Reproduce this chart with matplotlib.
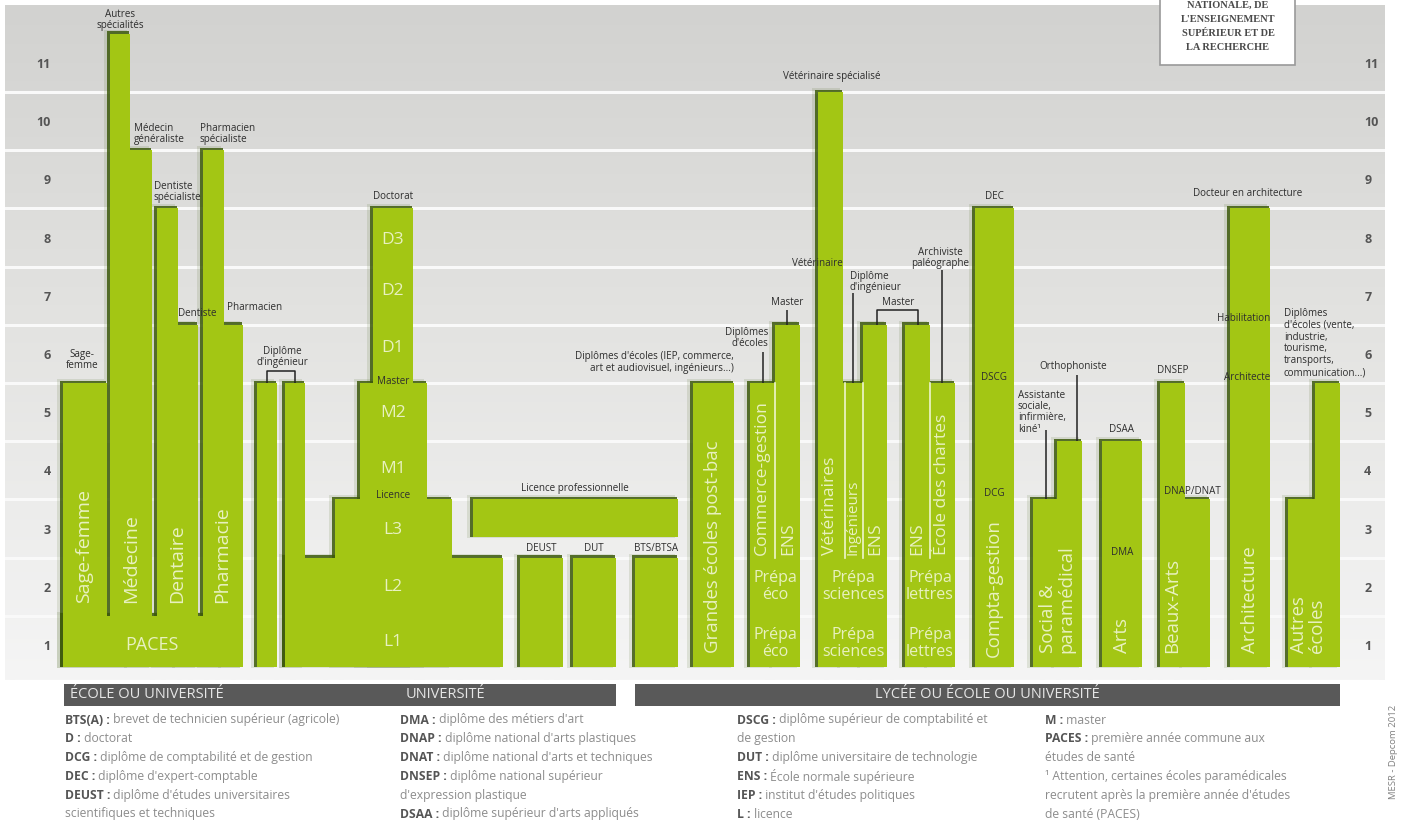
import numpy as np
import matplotlib.pyplot as plt
from matplotlib.patches import Rectangle
from matplotlib.colors import LinearSegmentedColormap

plt.rcParams['font.family'] = ['Open Sans', 'DejaVu Sans']

# ---- data: years of study covered by each block of the diagram ----
block_names = [
    "PACES", "Sage-femme", "Autres spécialités", "Médecin généraliste",
    "Dentiste spécialiste", "Dentiste", "Pharmacien spécialiste", "Pharmacien",
    "Diplôme d'ingénieur 1", "Diplôme d'ingénieur 2", "L1-L2", "L3", "Master", "Doctorat",
    "Licence professionnelle", "DEUST", "DUT", "BTS/BTSA",
    "Grandes écoles post-bac", "Commerce-gestion", "ENS éco",
    "Vétérinaires", "Ingénieurs", "ENS sciences", "ENS lettres", "École des chartes",
    "Compta-gestion", "Social", "Paramédical", "Arts", "Beaux-Arts DNSEP",
    "Beaux-Arts DNAP", "Architecture", "Autres écoles 3", "Autres écoles 5",
]
block_bottom = [0, 0, 0, 0, 0, 0, 0, 0, 0, 0, 0, 0, 0, 0,
                2.35, 0, 0, 0, 0, 0, 0, 0, 0, 0, 0, 0,
                0, 0, 0, 0, 0, 0, 0, 0, 0]
block_top = [1, 5, 11, 9, 8, 6, 9, 6, 5, 5, 2, 3, 5, 8,
             3, 2, 2, 2, 5, 5, 6, 10, 5, 6, 6, 5,
             8, 3, 4, 4, 5, 3, 8, 3, 5]

# layout: horizontal extent of each block (pixel columns)
block_x0 = [63, 63, 110, 130, 157, 178, 203, 224, 257, 285, 285, 335, 360, 373,
            473, 520, 573, 635, 693, 750, 775, 818, 843, 863, 905, 930,
            975, 1033, 1057, 1102, 1160, 1185, 1230, 1288, 1315]
block_x1 = [243, 107, 130, 152, 178, 198, 224, 243, 277, 305, 503, 452, 427, 413,
            678, 563, 616, 678, 734, 775, 800, 843, 863, 887, 930, 955,
            1014, 1057, 1082, 1142, 1185, 1210, 1270, 1315, 1340]

level_labels = [str(k) for k in range(1, 12)]

GREEN = '#a3c614'
SHADOW = '#3d5a0c'
LIGHT = '#e8f1c0'
DARK = '#2e2e2e'
BASE = 0.12

W, H = 1405, 827
fig = plt.figure(figsize=(W / 100, H / 100), dpi=100)
fig.patch.set_facecolor('white')

ax = fig.add_axes([5 / W, 1 - 680 / H, 1380 / W, 675 / H])
ymin, ymax = -0.103, 11.495
ax.set_xlim(5, 1385)
ax.set_ylim(ymin, ymax)

bg = LinearSegmentedColormap.from_list('bg', ['#d2d2d0', '#e4e4e2', '#f5f5f5'])
ax.imshow(np.linspace(0, 1, 256).reshape(-1, 1), cmap=bg, aspect='auto',
          extent=[5, 1385, ymin, ymax], origin='upper', zorder=0)
for k in range(1, 11):
    ax.axhline(k, color='#f9f9f9', lw=2.2, zorder=1)

ticks = [k - 0.5 for k in range(1, 12)]
ax.set_yticks(ticks)
ax.set_yticklabels(level_labels, fontweight='bold', color='#555555')
ax.tick_params(axis='y', length=0, labelsize=9, pad=-33)
ax.set_xticks([])
for sp in ax.spines.values():
    sp.set_visible(False)

ax_r = ax.twinx()
ax_r.set_ylim(ymin, ymax)
ax_r.set_yticks(ticks)
ax_r.set_yticklabels(level_labels, fontweight='bold', color='#555555')
ax_r.tick_params(axis='y', length=0, labelsize=9, pad=-15)
for sp in ax_r.spines.values():
    sp.set_visible(False)

# shadows first, then green blocks
for x0, x1, b, t in zip(block_x0, block_x1, block_bottom, block_top):
    b0 = max(b, BASE)
    ax.add_patch(Rectangle((x0 - 6, b0 - 0.02), x1 - x0 + 3, t - b0 + 0.09,
                           color=SHADOW, alpha=0.12, lw=0, zorder=2))
    ax.add_patch(Rectangle((x0 - 3.5, b0), x1 - x0 + 2, t - b0 + 0.04,
                           color=SHADOW, alpha=0.85, lw=0, zorder=2))
for x0, x1, b, t in zip(block_x0, block_x1, block_bottom, block_top):
    b0 = max(b, BASE)
    ax.add_patch(Rectangle((x0, b0), x1 - x0, t - b0, color=GREEN, lw=0, zorder=3))

# white dividers inside prépa blocks
for xd in [775, 845, 863, 930]:
    ax.plot([xd, xd], [2.0, 5.0], color='#eef5cc', lw=1.2, zorder=4)

# vertical labels inside the blocks (x, bottom level, text, size)
vlabels = [
    (84, 1.22, "Sage-femme", 14), (131, 1.22, "Médecine", 14),
    (177, 1.22, "Dentaire", 14), (222, 1.22, "Pharmacie", 14),
    (713, 0.36, "Grandes écoles post-bac", 13.4),
    (762, 2.05, "Commerce-gestion", 12.6), (788, 2.05, "ENS", 12.6),
    (830, 2.05, "Vétérinaires", 12.6), (853, 2.05, "Ingénieurs", 11),
    (875, 2.05, "ENS", 12.6), (917, 2.05, "ENS", 12.6),
    (942, 2.05, "École des chartes", 12.6),
    (994, 0.3, "Compta-gestion", 13.4), (1057, 0.36, "Social &\nparamédical", 13.4),
    (1122, 0.36, "Arts", 13.4), (1172, 0.36, "Beaux-Arts", 13.4),
    (1250, 0.36, "Architecture", 13.4), (1308, 0.36, "Autres\nécoles", 13.4),
]
for x, y, s, fs in vlabels:
    ax.text(x, y, s, rotation=90, rotation_mode='anchor', ha='left', va='center',
            multialignment='left', color=LIGHT, fontsize=fs, zorder=6, linespacing=1.0)

# horizontal light labels inside blocks
hlabels = [
    (152, 0.5, "PACES", 13), (393, 0.55, "L1", 12.5), (393, 1.5, "L2", 12.5),
    (393, 2.47, "L3", 12.5), (393, 3.53, "M1", 12.5), (393, 4.48, "M2", 12.5),
    (393, 5.6, "D1", 12.5), (393, 6.58, "D2", 12.5), (393, 7.46, "D3", 12.5),
    (775, 1.5, "Prépa\néco", 11.5), (775, 0.52, "Prépa\néco", 11.5),
    (853, 1.5, "Prépa\nsciences", 11.5), (853, 0.52, "Prépa\nsciences", 11.5),
    (930, 1.5, "Prépa\nlettres", 11.5), (930, 0.52, "Prépa\nlettres", 11.5),
]
for x, y, s, fs in hlabels:
    ax.text(x, y, s, ha='center', va='center', color=LIGHT, fontsize=fs,
            zorder=6, linespacing=1.05)

# small dark labels (x, level, text, ha)
dlabels = [
    (120, 11.24, "Autres\nspécialités", 'center'),
    (134, 9.28, "Médecin\ngénéraliste", 'left'),
    (154, 8.28, "Dentiste\nspécialiste", 'left'),
    (200, 9.28, "Pharmacien\nspécialiste", 'left'),
    (178, 6.2, "Dentiste", 'left'), (227, 6.3, "Pharmacien", 'left'),
    (82, 5.4, "Sage-\nfemme", 'center'),
    (282, 5.45, "Diplôme\nd'ingénieur", 'center'),
    (393, 8.2, "Doctorat", 'center'), (393, 5.03, "Master", 'center'),
    (393, 3.06, "Licence", 'center'),
    (575, 3.18, "Licence professionnelle", 'center'),
    (541, 2.16, "DEUST", 'center'), (594, 2.16, "DUT", 'center'),
    (656, 2.16, "BTS/BTSA", 'center'),
    (734, 5.35, "Diplômes d'écoles (IEP, commerce,\nart et audiovisuel, ingénieurs...)", 'right'),
    (768, 5.77, "Diplômes\nd'écoles", 'right'),
    (787, 6.39, "Master", 'center'),
    (832, 10.26, "Vétérinaire spécialisé", 'center'),
    (843, 7.06, "Vétérinaire", 'right'),
    (850, 6.74, "Diplôme\nd'ingénieur", 'left'),
    (898, 6.39, "Master", 'center'),
    (940, 7.15, "Archiviste\npaléographe", 'center'),
    (994, 8.2, "DEC", 'center'), (994, 5.1, "DSCG", 'center'),
    (994, 3.1, "DCG", 'center'),
    (1018, 4.5, "Assistante\nsociale,\ninfirmière,\nkiné¹", 'left'),
    (1073, 5.29, "Orthophoniste", 'center'),
    (1122, 4.2, "DSAA", 'center'), (1122, 2.08, "DMA", 'center'),
    (1173, 5.22, "DNSEP", 'center'), (1192, 3.13, "DNAP/DNAT", 'center'),
    (1248, 8.26, "Docteur en architecture", 'center'),
    (1270, 6.1, "Habilitation", 'right'), (1270, 5.1, "Architecte", 'right'),
]
for x, y, s, ha in dlabels:
    ax.text(x, y, s, ha=ha, va='center', multialignment=ha,
            color=DARK, fontsize=7.1, zorder=7, linespacing=1.05)

# "autres écoles" note, one line at a time
other_schools = ["Diplômes", "d'écoles (vente,", "industrie,", "tourisme,",
                 "transports,", "communication...)"]
for i, s in enumerate(other_schools):
    ax.text(1284, 6.2 - 0.205 * i, s, ha='left', va='center', color=DARK,
            fontsize=7.1, zorder=7)

# annotation connectors
connectors = [
    ([267, 267, 295, 295], [5.0, 5.2, 5.2, 5.0]),
    ([763, 763], [5.0, 5.53]),
    ([787, 787], [6.0, 6.25]),
    ([853, 853], [5.0, 6.55]),
    ([877, 877, 918, 918], [6.0, 6.25, 6.25, 6.0]),
    ([942, 942], [5.0, 6.94]),
    ([1046, 1046], [3.0, 4.19]),
    ([1077, 1077], [4.0, 5.14]),
]
for xs, ys in connectors:
    ax.plot(xs, ys, color='#222222', lw=1.1, zorder=7, solid_capstyle='butt')

# ---- overlay in pixel coordinates: logo, bands, glossary ----
ov = fig.add_axes([0, 0, 1, 1])
ov.set_xlim(0, W)
ov.set_ylim(H, 0)
ov.axis('off')
ov.patch.set_alpha(0)

ov.add_patch(Rectangle((1160, -5), 135, 70, facecolor='white', edgecolor='#9a9a9a', lw=1.2))
for yy, s in zip([5, 19, 33, 47], ["NATIONALE, DE", "L'ENSEIGNEMENT", "SUPÉRIEUR ET DE", "LA RECHERCHE"]):
    ov.text(1228, yy, s, ha='center', va='center', fontsize=7.5, fontweight='bold',
            family=['Liberation Serif', 'DejaVu Serif'], color='#4a4a4a')

ov.add_patch(Rectangle((64, 684), 552, 22, color='#595959', lw=0))
ov.add_patch(Rectangle((635, 684), 705, 22, color='#595959', lw=0))
ov.text(70, 695, "ÉCOLE OU UNIVERSITÉ", ha='left', va='center', color='#e6e6e6', fontsize=10.5)
ov.text(445, 695, "UNIVERSITÉ", ha='center', va='center', color='#e6e6e6', fontsize=10.5)
ov.text(987, 695, "LYCÉE OU ÉCOLE OU UNIVERSITÉ", ha='center', va='center', color='#e6e6e6', fontsize=10.5)

gloss_x = [65, 400, 737, 1045]
gloss = [
    [("BTS(A) :", " brevet de technicien supérieur (agricole)"), ("D :", " doctorat"),
     ("DCG :", " diplôme de comptabilité et de gestion"), ("DEC :", " diplôme d'expert-comptable"),
     ("DEUST :", " diplôme d'études universitaires"), ("", "scientifiques et techniques")],
    [("DMA :", " diplôme des métiers d'art"), ("DNAP :", " diplôme national d'arts plastiques"),
     ("DNAT :", " diplôme national d'arts et techniques"), ("DNSEP :", " diplôme national supérieur"),
     ("", "d'expression plastique"), ("DSAA :", " diplôme supérieur d'arts appliqués")],
    [("DSCG :", " diplôme supérieur de comptabilité et"), ("", "de gestion"),
     ("DUT :", " diplôme universitaire de technologie"), ("ENS :", " École normale supérieure"),
     ("IEP :", " institut d'études politiques"), ("L :", " licence")],
    [("M :", " master"), ("PACES :", " première année commune aux"), ("", "études de santé"),
     ("", "¹ Attention, certaines écoles paramédicales"),
     ("", "recrutent après la première année d'études"), ("", "de santé (PACES)")],
]
fig.canvas.draw()
renderer = fig.canvas.get_renderer()
inv = ov.transData.inverted()
for cx, rows in zip(gloss_x, gloss):
    for i, (key, desc) in enumerate(rows):
        yy = 720 + 18.8 * i
        x = cx
        if key:
            tk = ov.text(x, yy, key, ha='left', va='center', fontsize=8.7,
                         fontweight='bold', color='#555555')
            bb = tk.get_window_extent(renderer)
            x = inv.transform((bb.x1, bb.y0))[0]
        ov.text(x, yy, desc, ha='left', va='center', fontsize=8.7, color='#8c8c8c')

ov.text(1393, 752, "MESR - Depcom 2012", rotation=90, ha='center', va='center',
        fontsize=6.8, color='#808080')

fig.savefig("out.png", dpi=100, facecolor='white')
